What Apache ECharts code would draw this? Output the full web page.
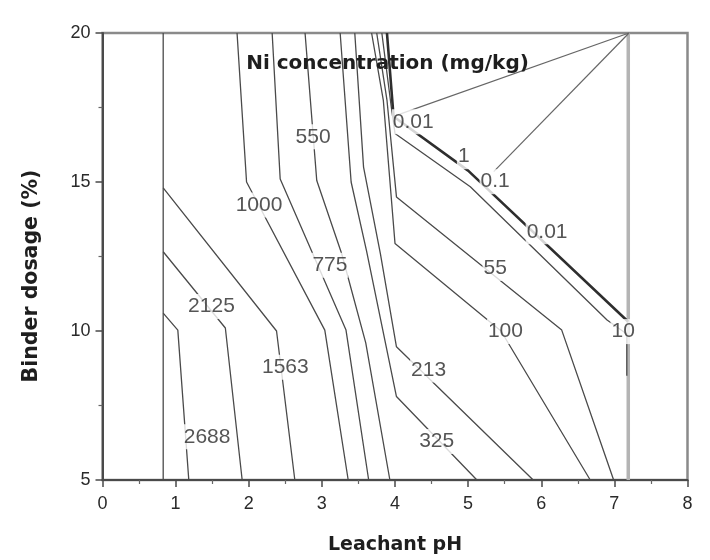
<!DOCTYPE html>
<html>
<head>
<meta charset="utf-8">
<script src="https://cdn.jsdelivr.net/npm/echarts@6/dist/echarts.min.js"></script>
<style>
  html, body { margin: 0; padding: 0; background: #fff; }
  #chart { width: 710px; height: 560px; }
</style>
</head>
<body>
<div id="chart"></div>
<script>
// Axis ticks: leachant pH (x) and binder dosage in % (y)
const phTicks = [0, 1, 2, 3, 4, 5, 6, 7, 8];
const dosageTicks = [5, 10, 15, 20];

// Iso-concentration lines of leached Ni (mg/kg), as [pH, dosage] vertices
const levels = [2688, 2125, 1563, 1000, 775, 550, 325, 213, 100, 55, 10];
const paths = [
  [[0.83, 10.6], [1.03, 10.03], [1.18, 5]],
  [[0.83, 12.66], [1.68, 10.1], [1.91, 5]],
  [[0.83, 14.8], [2.38, 10.0], [2.63, 5]],
  [[1.84, 20], [1.97, 15.0], [3.04, 10.03], [3.36, 5]],
  [[2.32, 20], [2.43, 15.1], [3.33, 10.03], [3.64, 5]],
  [[2.77, 20], [2.93, 15.05], [3.27, 12.6], [3.6, 9.6], [3.93, 5]],
  [[3.25, 20], [3.40, 15.0], [3.61, 12.7], [4.02, 7.8], [5.12, 5]],
  [[3.45, 20], [3.57, 15.5], [3.80, 12.6], [4.02, 9.47], [5.89, 5]],
  [[3.68, 20], [3.84, 17.75], [4.0, 12.94], [5.45, 10.0], [6.67, 5]],
  [[3.75, 20], [3.89, 17.75], [4.02, 14.5], [6.28, 10.03], [6.99, 5]],
  [[3.82, 20], [3.95, 17.5], [4.0, 16.63], [5.03, 14.84], [6.9, 10.37], [7.17, 9.9], [7.17, 8.5]]
];
const labelSpots = [
  [1.43, 6.45], [1.49, 10.82], [2.50, 8.78], [2.14, 14.23], [3.11, 12.21], [2.88, 16.52],
  [4.57, 6.29], [4.46, 8.69], [5.51, 9.98], [5.37, 12.10], [7.12, 9.98]
];

// Low levels that run together along the steep band at high pH
const bandLevels = [0.01, 1, 0.1, 0.01];
const bandPath = [[3.89, 20], [3.98, 17.2], [5.0, 15.38], [7.19, 10.31]];
const bandLabelSpots = [[4.25, 17.02], [4.94, 15.85], [5.37, 15.01], [6.08, 13.33]];

// Lines fanning out to the top-right corner, and the two edges of the data region
const fanPaths = [
  [[3.98, 17.2], [7.2, 20]],
  [[5.35, 15.35], [7.2, 20]]
];
const leftEdge = [[0.83, 5], [0.83, 20]];
const rightEdge = [[7.19, 5], [7.19, 20]];

const chart = echarts.init(document.getElementById('chart'), null, { renderer: 'canvas' });

const numFont = "'Liberation Sans', Arial, sans-serif";
const boldFont = "'DejaVu Sans', sans-serif";

function lineSeries(data, color, width, z) {
  return {
    type: 'line', data: data, symbol: 'none', silent: true, z: z || 2,
    lineStyle: { color: color, width: width }, animation: false
  };
}

const series = [];
series.push(lineSeries(rightEdge, '#b4b4b4', 3.5, 1));
series.push(lineSeries(leftEdge, '#4a4a4a', 1.3));
paths.forEach(p => series.push(lineSeries(p, '#4a4a4a', 1.3)));
fanPaths.forEach(p => series.push(lineSeries(p, '#666', 1.2)));
series.push(lineSeries(bandPath, '#2e2e2e', 2.6, 3));

const labelData = levels.map((lv, i) => ({ value: labelSpots[i], name: String(lv) }))
  .concat(bandLevels.map((lv, i) => ({ value: bandLabelSpots[i], name: String(lv) })));

series.push({
  type: 'scatter', data: labelData, symbolSize: 0, silent: true, z: 5, animation: false,
  label: {
    show: true, position: 'inside', formatter: '{b}',
    fontFamily: numFont, fontSize: 21, color: '#2a2a2a',
    backgroundColor: '#fff', padding: [2, 1]
  }
});

const axisCommon = {
  type: 'value',
  axisLine: { show: true, lineStyle: { color: '#4a4a4a', width: 2 } },
  axisTick: { show: true, inside: false, length: 7, lineStyle: { color: '#4a4a4a', width: 1.5 } },
  minorTick: { show: true, splitNumber: 2, length: 4, lineStyle: { color: '#666', width: 1.2 } },
  splitLine: { show: false },
  minorSplitLine: { show: false }
};

chart.setOption({
  animation: false,
  backgroundColor: '#fff',
  grid: {
    left: 102.5, right: 22.5, top: 33, bottom: 80,
    show: true, borderColor: '#8a8a8a', borderWidth: 2.5, backgroundColor: 'transparent'
  },
  xAxis: Object.assign({}, axisCommon, {
    min: phTicks[0], max: phTicks[phTicks.length - 1], interval: phTicks[1] - phTicks[0],
    axisLabel: { margin: 15, fontFamily: numFont, fontSize: 18, color: '#2a2a2a' }
  }),
  yAxis: Object.assign({}, axisCommon, {
    min: dosageTicks[0], max: dosageTicks[dosageTicks.length - 1], interval: dosageTicks[1] - dosageTicks[0],
    axisLabel: { margin: 12, fontFamily: numFont, fontSize: 18, color: '#2a2a2a' }
  }),
  graphic: [
    {
      type: 'text', x: 387.5, y: 64, z: 10, silent: true,
      style: { text: 'Ni concentration (mg/kg)', font: 'bold 20px ' + boldFont, fill: '#1e1e1e',
               textAlign: 'center', textVerticalAlign: 'middle' }
    },
    {
      type: 'text', x: 395, y: 545, silent: true,
      style: { text: 'Leachant pH', font: 'bold 19px ' + boldFont, fill: '#1e1e1e',
               textAlign: 'center', textVerticalAlign: 'middle' }
    },
    {
      type: 'text', x: 31.5, y: 276, rotation: Math.PI / 2, silent: true,
      style: { text: 'Binder dosage (%)', font: 'bold 20.5px ' + boldFont, fill: '#1e1e1e',
               textAlign: 'center', textVerticalAlign: 'middle' }
    }
  ],
  series: series
});
</script>
</body>
</html>
